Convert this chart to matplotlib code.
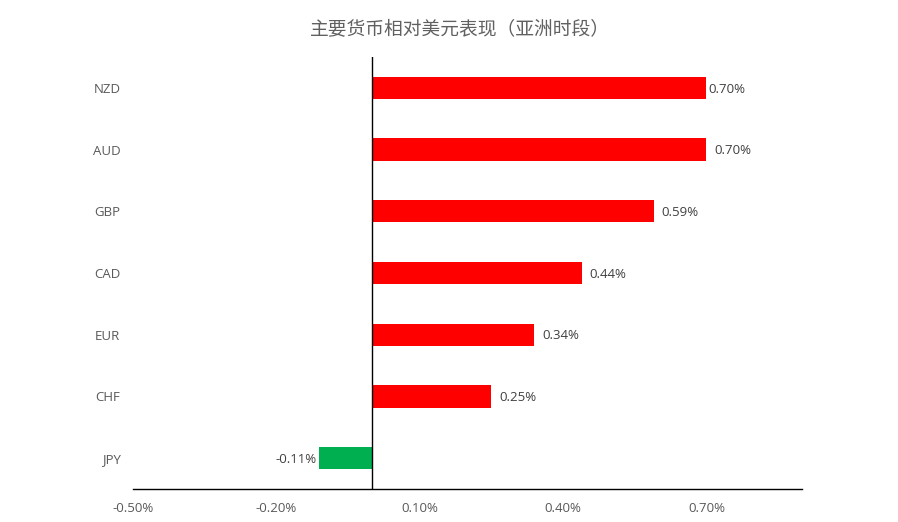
import matplotlib
matplotlib.use("Agg")
import matplotlib.pyplot as plt
from matplotlib.ticker import FuncFormatter

categories = ["NZD", "AUD", "GBP", "CAD", "EUR", "CHF", "JPY"]
values = [0.70, 0.70, 0.59, 0.44, 0.34, 0.25, -0.11]
tick_values = [-0.50, -0.20, 0.10, 0.40, 0.70]
title = "主要货币相对美元表现（亚洲时段）"

label_offsets = [0.004, 0.016, 0.016, 0.016, 0.016, 0.016, -0.006]

plt.rcParams['font.family'] = ['Open Sans', 'Noto Sans CJK SC', 'DejaVu Sans']
gray = "#595959"

fig = plt.figure(figsize=(8.98, 5.22), dpi=100)
ax = fig.add_axes([133/898, 1-489/522, (802-133)/898, (489-57)/522])

ypos = list(range(len(categories)))
colors = ["#FF0000" if v >= 0 else "#00B050" for v in values]
ax.barh(ypos, values, height=0.36, color=colors)
ax.set_ylim(len(categories)-0.5, -0.5)
ax.set_xlim(-0.50, 0.90)
ax.set_yticks(ypos)
ax.set_yticklabels(categories)
ax.set_xticks(tick_values)
ax.xaxis.set_major_formatter(FuncFormatter(lambda v, p: f"{v:.2f}%"))

for s in ["top", "right", "left"]:
    ax.spines[s].set_visible(False)
ax.spines["bottom"].set_color("black")
ax.spines["bottom"].set_linewidth(1.0)
ax.axvline(0, color="black", linewidth=1.0)
ax.tick_params(axis="both", length=0, colors=gray, labelsize=9.5)
ax.tick_params(axis="y", pad=9)
ax.tick_params(axis="x", pad=9)

for y, v, off in zip(ypos, values, label_offsets):
    ax.text(v + off, y + 0.02, f"{v:.2f}%", va="center", ha="left" if v >= 0 else "right",
            color="#404040", fontsize=9.5)

fig.text(460/898, 1-29/522, title, ha="center", va="center", fontsize=13.5,
         color="#606060", family=['Noto Sans CJK SC', 'DejaVu Sans'])

fig.savefig("out.png", dpi=100, facecolor="white")
